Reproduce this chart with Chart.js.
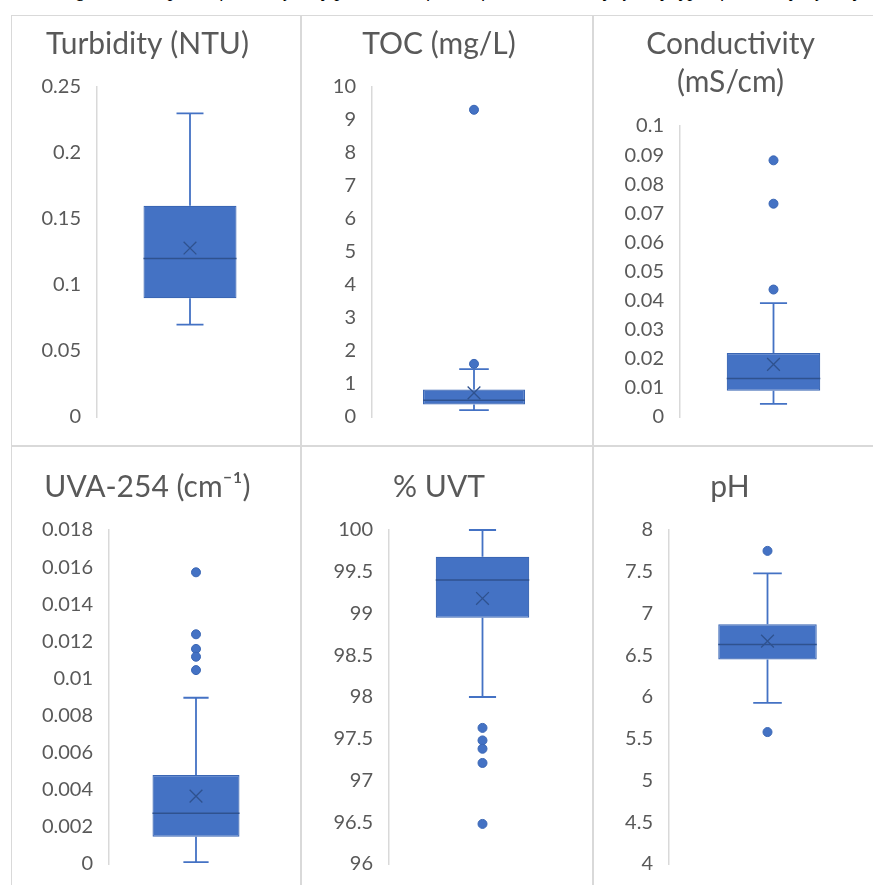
<!DOCTYPE html>
<html><head><meta charset="utf-8">
<script src="https://cdn.jsdelivr.net/npm/chart.js@4.4.1/dist/chart.umd.min.js"></script>
<style>
html,body{margin:0;padding:0;background:#fff;width:873px;height:885px;overflow:hidden;position:relative}
.caption{position:absolute;left:60px;top:-19px;width:873px;text-align:left;font:italic 19px "Liberation Serif","DejaVu Serif",serif;line-height:20px;white-space:nowrap;color:#000}
.panel{position:absolute;box-sizing:border-box;border:1px solid #d9d9d9;background:#fff}
.panel canvas{display:block}
</style></head><body>
<div class="caption">Figure 3. Box plots of water quality parameters for the finished water by quality type of the study; quality of g</div>
<div id="p0" class="panel"><canvas id="c0"></canvas></div>
<div id="p1" class="panel"><canvas id="c1"></canvas></div>
<div id="p2" class="panel"><canvas id="c2"></canvas></div>
<div id="p3" class="panel"><canvas id="c3"></canvas></div>
<div id="p4" class="panel"><canvas id="c4"></canvas></div>
<div id="p5" class="panel"><canvas id="c5"></canvas></div>
<script>
// ---- data ----
const categories = ['Turbidity', 'TOC', 'Conductivity', 'UVA-254', 'UVT', 'pH'];
const titles = ['Turbidity (NTU)', 'TOC (mg/L)', ['Conductivity', '(mS/cm)'], 'UVA-254 (cm\u207B\u00B9)', '% UVT', 'pH'];
const whiskerLow  = [0.07, 0.21, 0.0045, 0.0001, 98.00, 5.93];
const q1          = [0.09, 0.38, 0.0090, 0.00147, 98.95, 6.45];
const median      = [0.12, 0.51, 0.0132, 0.00273, 99.40, 6.63];
const q3          = [0.16, 0.83, 0.0220, 0.0048, 99.68, 6.87];
const whiskerHigh = [0.23, 1.45, 0.0391, 0.00896, 100.0, 7.48];
const mean        = [0.128, 0.73, 0.0181, 0.00366, 99.18, 6.67];
const outliers = [
  [],
  [9.31, 1.61],
  [0.0882, 0.0733, 0.0438],
  [0.01572, 0.01238, 0.01159, 0.01117, 0.01045],
  [97.63, 97.48, 97.38, 97.21, 96.48],
  [7.75, 5.58]
];
const axisMin  = [0, 0, 0, 0, 96, 4];
const axisMax  = [0.25, 10, 0.1, 0.018, 100, 8];
const axisStep = [0.05, 1, 0.01, 0.002, 0.5, 0.5];

// ---- layout (positions only) ----
const frames = [
  {x:11,  y:15,  w:290, h:431, left:85, right:17, top:71,  bottom:24, tpad:9},
  {x:301, y:15,  w:292, h:431, left:70, right:16, top:71,  bottom:24, tpad:9},
  {x:593, y:15,  w:292, h:431, left:86, right:17, top:110, bottom:23, tpad:9},
  {x:11,  y:446, w:290, h:449, left:97, right:17, top:83,  bottom:30, tpad:21},
  {x:301, y:446, w:292, h:449, left:87, right:16, top:83,  bottom:30, tpad:21},
  {x:593, y:446, w:292, h:449, left:75, right:18, top:83,  bottom:30, tpad:21}
];

const BLUE = '#4472C4', DARK = '#2F528F', GREY = '#595959';
const TITLE_SIZE = 30, TITLE_LH = 1.27;

function fmt(v){ return String(parseFloat(Number(v).toFixed(6))); }

const whiskerPlugin = {
  id: 'whiskers',
  afterDatasetDraw(chart, args, opts) {
    if (args.meta.type !== 'bar') return;
    const i = opts.idx;
    const ys = chart.scales.y;
    const bar = args.meta.data[0];
    const cx = bar.x, half = bar.width / 2, cap = bar.width * 0.145;
    const yq1 = ys.getPixelForValue(q1[i]), yq3 = ys.getPixelForValue(q3[i]);
    const ylo = ys.getPixelForValue(whiskerLow[i]), yhi = ys.getPixelForValue(whiskerHigh[i]);
    const ym = ys.getPixelForValue(median[i]);
    const ctx = chart.ctx;
    ctx.save();
    ctx.strokeStyle = BLUE; ctx.lineWidth = 1.8; ctx.lineCap = 'butt';
    ctx.beginPath();
    ctx.moveTo(cx, yq3); ctx.lineTo(cx, yhi);
    ctx.moveTo(cx - cap, yhi); ctx.lineTo(cx + cap, yhi);
    ctx.moveTo(cx, yq1); ctx.lineTo(cx, ylo);
    ctx.moveTo(cx - cap, ylo); ctx.lineTo(cx + cap, ylo);
    ctx.stroke();
    ctx.strokeStyle = DARK; ctx.lineWidth = 1.5;
    ctx.beginPath(); ctx.moveTo(cx - half, ym); ctx.lineTo(cx + half, ym); ctx.stroke();
    ctx.restore();
  }
};

for (let i = 0; i < 6; i++) {
  const f = frames[i];
  const panel = document.getElementById('p' + i);
  panel.style.left = f.x + 'px'; panel.style.top = f.y + 'px';
  panel.style.width = f.w + 'px'; panel.style.height = f.h + 'px';
  const cv = document.getElementById('c' + i);
  cv.width = f.w - 2; cv.height = f.h - 2;
  cv.style.width = (f.w - 2) + 'px'; cv.style.height = (f.h - 2) + 'px';
  const lines = Array.isArray(titles[i]) ? titles[i].length : 1;
  const tBottom = f.top - f.tpad - lines * TITLE_SIZE * TITLE_LH;
  const cat = categories[i];
  new Chart(cv, {
    type: 'bar',
    data: {
      labels: [cat],
      datasets: [
        { type: 'bar', label: 'box', data: [[q1[i], q3[i]]], backgroundColor: BLUE,
          borderColor: '#3A66B4', borderWidth: 1.2, borderSkipped: false,
          barPercentage: 0.5, categoryPercentage: 1, order: 3 },
        { type: 'line', label: 'outliers', data: outliers[i].map(v => ({x: cat, y: v})),
          showLine: false, pointRadius: 4.5, pointBackgroundColor: BLUE,
          pointBorderColor: '#3A66B4', pointBorderWidth: 1, order: 2 },
        { type: 'line', label: 'mean', data: [{x: cat, y: mean[i]}], showLine: false,
          pointStyle: 'crossRot', pointRadius: 9, pointBorderColor: DARK,
          pointBackgroundColor: 'rgba(0,0,0,0)', pointBorderWidth: 1.3, order: 1 }
      ]
    },
    options: {
      responsive: false, animation: false, devicePixelRatio: 1,
      layout: { padding: { left: 0, right: f.right, top: 0, bottom: f.bottom } },
      plugins: {
        legend: { display: false }, tooltip: { enabled: false },
        title: { display: true, text: titles[i], color: GREY,
          font: { family: 'Lato', size: TITLE_SIZE, weight: 'normal', lineHeight: TITLE_LH },
          padding: { top: f.tpad, bottom: tBottom } },
        whiskers: { idx: i }
      },
      scales: {
        x: { type: 'category', display: false, offset: true },
        y: {
          min: axisMin[i], max: axisMax[i],
          grid: { display: false, drawTicks: false },
          border: { display: true, color: '#d9d9d9', width: 1.5 },
          ticks: { stepSize: axisStep[i], autoSkip: false, padding: 16, color: GREY,
            font: { family: 'Lato', size: 20 }, callback: v => fmt(v) },
          afterFit: s => { s.width = f.left; }
        }
      }
    },
    plugins: [whiskerPlugin]
  });
}
</script>
</body></html>
